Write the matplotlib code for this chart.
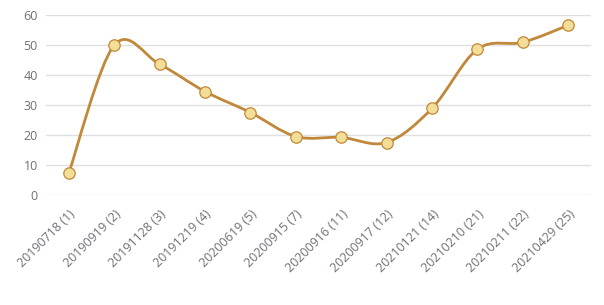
import numpy as np
import matplotlib.pyplot as plt
from matplotlib.path import Path
from matplotlib.patches import PathPatch

plt.rcParams['font.family'] = ['Open Sans', 'DejaVu Sans']

# datos
fechas = ['20190718 (1)', '20190919 (2)', '20191128 (3)', '20191219 (4)',
          '20200619 (5)', '20200915 (7)', '20200916 (11)', '20200917 (12)',
          '20210121 (14)', '20210210 (21)', '20210211 (22)', '20210429 (25)']
valores = [7.2, 49.9, 43.6, 34.5, 27.5, 19.5, 19.2, 17.5, 28.9, 48.6, 50.9, 56.6]

color_linea = '#c1883a'
color_punto = '#f2de97'
color_texto = '#6e7079'

fig = plt.figure(figsize=(6.04, 3.05), dpi=100)
ax = fig.add_axes([46 / 604, 110 / 305, 545 / 604, 180 / 305])

n = len(valores)
x = np.arange(n, dtype=float)
y = np.array(valores, dtype=float)

# curva suave tipo Catmull-Rom (extremos duplicados)
verts = [(x[0], y[0])]
codes = [Path.MOVETO]
for i in range(n - 1):
    a = max(i - 1, 0)
    b = min(i + 2, n - 1)
    c1 = (x[i] + (x[i + 1] - x[a]) / 6, y[i] + (y[i + 1] - y[a]) / 6)
    c2 = (x[i + 1] - (x[b] - x[i]) / 6, y[i + 1] - (y[b] - y[i]) / 6)
    verts += [c1, c2, (x[i + 1], y[i + 1])]
    codes += [Path.CURVE4] * 3
ax.add_patch(PathPatch(Path(verts, codes), facecolor='none', edgecolor=color_linea,
                       linewidth=2, capstyle='round', joinstyle='round', zorder=3))

ax.plot(x, y, linestyle='none', marker='o', markersize=8.2,
        markerfacecolor=color_punto, markeredgecolor=color_linea,
        markeredgewidth=0.9, zorder=4)

ax.set_xlim(-0.5, n - 0.5)
ax.set_ylim(0, 60)
ax.set_yticks(range(0, 61, 10))
ax.set_xticks(x)
ax.set_xticklabels(fechas, rotation=45, ha='right', va='top', rotation_mode='anchor')
ax.grid(axis='y', color='#e0e0e0', linewidth=1)
ax.set_axisbelow(True)
for s in ax.spines.values():
    s.set_visible(False)
ax.tick_params(axis='both', length=0, labelsize=9, labelcolor=color_texto)
ax.tick_params(axis='y', pad=6)
ax.tick_params(axis='x', pad=9)

fig.savefig('out.png', dpi=100)
